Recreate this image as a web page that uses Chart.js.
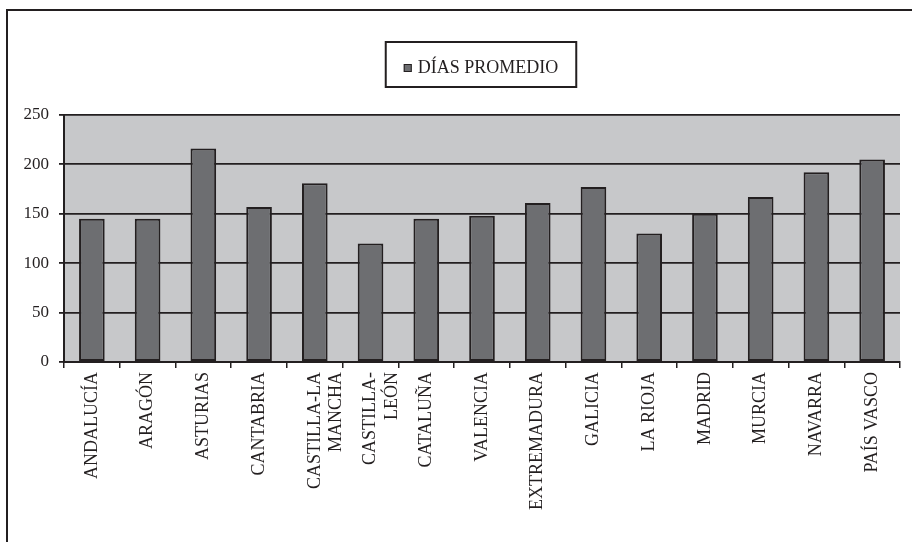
<!DOCTYPE html>
<html lang="es">
<head>
    <meta charset="UTF-8">
    <title>Días promedio por comunidad</title>
    <script src="https://cdn.jsdelivr.net/npm/chart.js@4.4.1/dist/chart.umd.min.js"></script>
    <style>
        html, body { margin: 0; padding: 0; background: #ffffff; }
        #wrap { position: relative; width: 912px; height: 542px; }
    </style>
</head>
<body>
    <div id="wrap">
        <canvas id="chart" width="912" height="542"></canvas>
    </div>

    <script>
        // Comunidades autónomas (multi-line labels where the original wraps)
        const regions = [
            'ANDALUCÍA', 'ARAGÓN', 'ASTURIAS', 'CANTABRIA', ['CASTILLA-LA', 'MANCHA'],
            ['CASTILLA-', 'LEÓN'], 'CATALUÑA', 'VALENCIA', 'EXTREMADURA', 'GALICIA',
            'LA RIOJA', 'MADRID', 'MURCIA', 'NAVARRA', 'PAÍS VASCO'
        ];
        const avgDays = [145, 145, 216, 157, 181, 120, 145, 148, 161, 177, 130, 150, 167, 192, 205];
        const seriesName = 'DÍAS PROMEDIO';
        const yTicks = [0, 50, 100, 150, 200, 250];

        const ink = '#231f20';
        const barFill = '#6d6e71';
        const plotFill = '#c7c8ca';
        const serif = '"Liberation Serif", "Times New Roman", serif';

        // grey plot background + outer frame
        const backdrop = {
            id: 'backdrop',
            beforeDraw(chart) {
                const { ctx, chartArea: a } = chart;
                ctx.save();
                ctx.strokeStyle = ink;
                ctx.lineWidth = 2;
                ctx.beginPath();
                ctx.moveTo(7, 560);
                ctx.lineTo(7, 10);
                ctx.lineTo(930, 10);
                ctx.stroke();
                ctx.fillStyle = plotFill;
                ctx.fillRect(a.left, a.top, a.right - a.left, a.bottom - a.top);
                ctx.restore();
            }
        };

        // boxed legend above the plot
        const boxedLegend = {
            id: 'boxedLegend',
            afterDraw(chart) {
                const { ctx } = chart;
                const ds = chart.data.datasets[0];
                ctx.save();
                ctx.font = '18px ' + serif;
                const textW = ctx.measureText(ds.label).width;
                const sq = 8, gap = 6, padX = 18;
                const boxW = padX * 2 + sq + gap + textW;
                const cx = 481;
                const x0 = cx - boxW / 2, y0 = 42, h = 45;
                ctx.strokeStyle = ink;
                ctx.lineWidth = 2;
                ctx.strokeRect(x0, y0, boxW, h);
                ctx.fillStyle = ds.backgroundColor;
                ctx.fillRect(x0 + padX, y0 + 22, sq, sq);
                ctx.lineWidth = 1;
                ctx.strokeRect(x0 + padX + 0.5, y0 + 22.5, sq - 1, sq - 1);
                ctx.fillStyle = ink;
                ctx.textBaseline = 'alphabetic';
                ctx.fillText(ds.label, x0 + padX + sq + gap, y0 + 31);
                ctx.restore();
            }
        };

        new Chart(document.getElementById('chart'), {
            type: 'bar',
            data: {
                labels: regions,
                datasets: [{
                    label: seriesName,
                    data: avgDays,
                    backgroundColor: barFill,
                    borderColor: ink,
                    borderWidth: 2,
                    borderSkipped: false,
                    categoryPercentage: 1,
                    barPercentage: 0.46
                }]
            },
            options: {
                responsive: false,
                animation: false,
                layout: { padding: { top: 115, right: 12, left: 0, bottom: 0 } },
                plugins: {
                    legend: { display: false },
                    tooltip: { enabled: false }
                },
                scales: {
                    x: {
                        afterFit(scale) { scale.height = 180; },
                        grid: {
                            offset: true,
                            drawOnChartArea: false,
                            drawTicks: true,
                            tickLength: 6,
                            color: ink,
                            lineWidth: 1.5
                        },
                        border: { display: true, color: ink, width: 2 },
                        ticks: {
                            color: ink,
                            font: { family: serif, size: 18 },
                            minRotation: 90,
                            maxRotation: 90,
                            autoSkip: false,
                            padding: 4
                        }
                    },
                    y: {
                        min: 0,
                        max: 250,
                        afterFit(scale) { scale.width = 64; },
                        afterBuildTicks(scale) {
                            scale.ticks = yTicks.map(v => ({ value: v }));
                        },
                        grid: {
                            color: ink,
                            lineWidth: 1.8,
                            drawTicks: true,
                            tickLength: 5
                        },
                        border: { display: true, color: ink, width: 2 },
                        ticks: {
                            color: ink,
                            font: { family: serif, size: 17 },
                            padding: 10
                        }
                    }
                }
            },
            plugins: [backdrop, boxedLegend]
        });
    </script>
</body>
</html>
